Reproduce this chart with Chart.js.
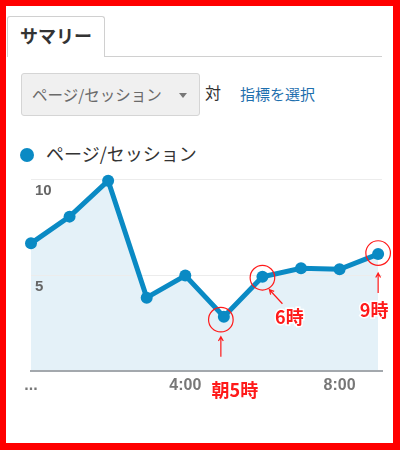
<!DOCTYPE html>
<html lang="ja">
<head>
<meta charset="UTF-8">
<title>サマリー - ページ/セッション</title>
<script src="https://cdn.jsdelivr.net/npm/chart.js"></script>
<style>
    body {
        margin: 0;
        font-family: "Noto Sans CJK JP", "Noto Sans", sans-serif;
    }

    .frame {
        position: relative;
        width: 400px;
        height: 450px;
        box-sizing: border-box;
        border-style: solid;
        border-color: #ff0000;
        border-width: 6px 7px 7px 6px;
        background: #fff;
        overflow: hidden;
    }

    .tab {
        position: absolute;
        left: 1px;
        top: 10px;
        width: 98px;
        height: 41px;
        border: 1px solid #d0d0d0;
        border-bottom: none;
        border-radius: 3px 3px 0 0;
        background: #fff;
        box-sizing: border-box;
        font-size: 18px;
        font-weight: bold;
        color: #333;
        line-height: 36px;
        padding-left: 12px;
    }

    .tabline {
        position: absolute;
        left: 99px;
        top: 50px;
        width: 277px;
        height: 1px;
        background: #d0d0d0;
    }

    .dropdown {
        position: absolute;
        left: 15px;
        top: 67px;
        width: 179px;
        height: 43px;
        box-sizing: border-box;
        border: 1px solid #d5d5d5;
        border-radius: 3px;
        background: #f0f0f0;
        font-size: 15.5px;
        color: #6a6a6a;
        line-height: 41px;
        padding-left: 10px;
    }

    .dropdown .arrow {
        position: absolute;
        left: 157px;
        top: 19px;
        width: 0;
        height: 0;
        border-left: 4px solid transparent;
        border-right: 4px solid transparent;
        border-top: 5px solid #777;
    }

    .vs {
        position: absolute;
        left: 199px;
        top: 74px;
        font-size: 16px;
        color: #333;
    }

    .pick {
        position: absolute;
        left: 234px;
        top: 77px;
        font-size: 15px;
        color: #1f6fae;
    }

    .legend {
        position: absolute;
        left: 14px;
        top: 134px;
        font-size: 18px;
        color: #333;
        line-height: 26px;
    }

    .legend .dot {
        display: inline-block;
        width: 14px;
        height: 14px;
        border-radius: 50%;
        background: #0a8ac4;
        margin-right: 12px;
        vertical-align: -1px;
    }

    .chart-box {
        position: absolute;
        left: -6px;
        top: 154px;
        width: 400px;
        height: 250px;
    }
</style>
</head>
<body>
<div class="frame">
    <div class="tab">サマリー</div>
    <div class="tabline"></div>
    <div class="dropdown">ページ/セッション<span class="arrow"></span></div>
    <div class="vs">対</div>
    <div class="pick">指標を選択</div>
    <div class="legend"><span class="dot"></span>ページ/セッション</div>
    <div class="chart-box"><canvas id="pvChart"></canvas></div>
</div>

<script>
    // hourly data
    const hours = ["0:00", "1:00", "2:00", "3:00", "4:00", "5:00", "6:00", "7:00", "8:00", "9:00"];
    const pagesPerSession = [6.65, 8.04, 9.91, 3.82, 4.97, 2.83, 4.91, 5.35, 5.30, 6.09];
    const xTickIndex = [0, 4, 8];
    const xTickText = ["...", "4:00", "8:00"];
    const yTickValues = [0, 5, 10];

    // red hand-drawn notes
    const noteIndex = [5, 6, 9];
    const noteText = ["朝5時", "6時", "9時"];

    const blue = "#0a8ac4";
    const red = "#ff1a1a";

    // offsets of each note from its point (circle, arrow tail/head, label)
    const noteLayout = [
        { cx: -3, cy: 3, ax1: -3, ay1: 40, ax2: -3, ay2: 20, tx: 11, ty: 73 },
        { cx: 0, cy: 1, ax1: 20, ay1: 27, ax2: 7, ay2: 13, tx: 27, ty: 40 },
        { cx: 0, cy: -1, ax1: 0, ay1: 39, ax2: 0, ay2: 19, tx: -4, ty: 56 }
    ];

    const notesPlugin = {
        id: "notes",
        afterDraw(chart) {
            const ctx = chart.ctx;
            const xs = chart.scales.x;
            const ys = chart.scales.y;
            ctx.save();
            for (let i = 0; i < noteIndex.length; i++) {
                const k = noteIndex[i];
                const px = xs.getPixelForValue(k);
                const py = ys.getPixelForValue(pagesPerSession[k]);
                const l = noteLayout[i];

                ctx.strokeStyle = red;
                ctx.lineWidth = 1.2;
                ctx.beginPath();
                ctx.arc(px + l.cx, py + l.cy, 12.3, 0, Math.PI * 2);
                ctx.stroke();

                // arrow
                const x1 = px + l.ax1, y1 = py + l.ay1;
                const x2 = px + l.ax2, y2 = py + l.ay2;
                ctx.beginPath();
                ctx.moveTo(x1, y1);
                ctx.lineTo(x2, y2);
                const ang = Math.atan2(y2 - y1, x2 - x1);
                ctx.moveTo(x2 - 5 * Math.cos(ang - 0.5), y2 - 5 * Math.sin(ang - 0.5));
                ctx.lineTo(x2, y2);
                ctx.lineTo(x2 - 5 * Math.cos(ang + 0.5), y2 - 5 * Math.sin(ang + 0.5));
                ctx.stroke();

                ctx.font = "bold 18px 'Noto Sans CJK JP'";
                ctx.textAlign = "center";
                ctx.textBaseline = "middle";
                ctx.lineWidth = 3;
                ctx.strokeStyle = "#fff";
                ctx.strokeText(noteText[i], px + l.tx, py + l.ty);
                ctx.fillStyle = red;
                ctx.fillText(noteText[i], px + l.tx, py + l.ty);
            }
            ctx.restore();
        }
    };

    let ctx = document.getElementById("pvChart").getContext("2d");
    let pvChart = new Chart(ctx, {
        type: "line",
        data: {
            labels: hours,
            datasets: [{
                label: "ページ/セッション",
                data: pagesPerSession.map((v, i) => ({ x: i, y: v })),
                borderColor: blue,
                backgroundColor: "#e4f1f8",
                pointBackgroundColor: blue,
                pointBorderWidth: 0,
                pointRadius: 6,
                borderWidth: 5,
                tension: 0,
                fill: "origin",
                clip: false
            }]
        },
        options: {
            responsive: true,
            maintainAspectRatio: false,
            animation: false,
            events: [],
            layout: {
                padding: { left: 31, right: 18, top: 19, bottom: 15 }
            },
            plugins: {
                legend: { display: false },
                tooltip: { enabled: false },
                filler: { drawTime: "beforeDraw" } // fill under the grid, line above it
            },
            scales: {
                x: {
                    type: "linear",
                    min: 0,
                    max: 9.1,
                    afterBuildTicks: s => { s.ticks = xTickIndex.map(v => ({ value: v })); },
                    afterFit: s => { s.height = 24; },
                    grid: { display: false, drawTicks: false },
                    border: { display: true, color: "#a3a8ad", width: 2 },
                    ticks: {
                        autoSkip: false,
                        maxRotation: 0,
                        padding: 5,
                        color: "#777",
                        font: { family: "Arial", size: 16, weight: "bold" },
                        callback: v => xTickText[xTickIndex.indexOf(v)]
                    }
                },
                y: {
                    min: 0,
                    max: 10,
                    afterBuildTicks: s => { s.ticks = yTickValues.map(v => ({ value: v })); },
                    afterFit: s => { s.width = 0; },
                    grid: { color: "#ececec", drawTicks: false },
                    border: { display: false },
                    ticks: {
                        autoSkip: false,
                        mirror: true,
                        padding: 4,
                        labelOffset: 12,
                        color: "#666",
                        font: { family: "Arial", size: 15, weight: "bold" },
                        callback: v => v === 0 ? "" : String(v)
                    }
                }
            }
        },
        plugins: [notesPlugin]
    });
</script>
</body>
</html>
